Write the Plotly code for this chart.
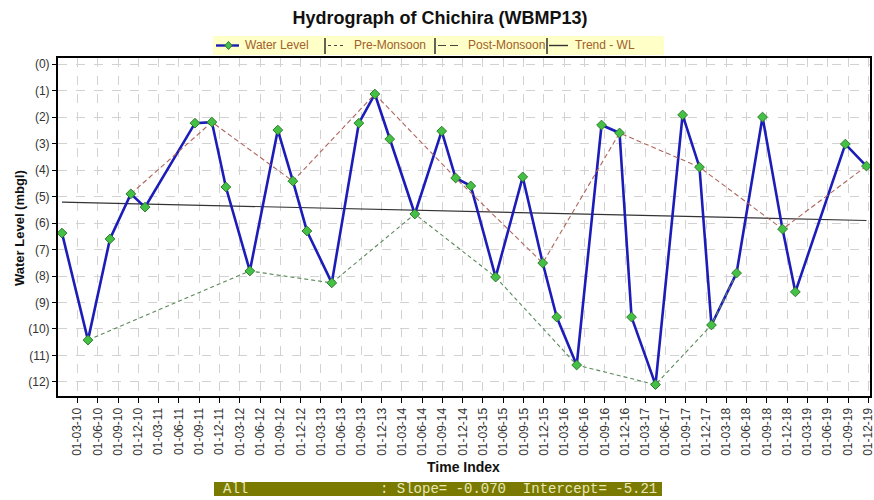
import plotly.graph_objects as go
from datetime import date

# ---------------- data ----------------
obs_dates = ["2009-12-22", "2010-04-18", "2010-07-26", "2010-10-28", "2010-12-31",
             "2011-08-13", "2011-10-28", "2011-12-30", "2012-04-16", "2012-08-20",
             "2012-10-27", "2012-12-29", "2013-04-20", "2013-08-20", "2013-10-31",
             "2014-01-06", "2014-04-29", "2014-08-28", "2014-10-30", "2015-01-06",
             "2015-04-28", "2015-08-28", "2015-11-26", "2016-01-28", "2016-04-27",
             "2016-08-17", "2016-11-06", "2016-12-30", "2017-04-17", "2017-08-17",
             "2017-11-01", "2017-12-25", "2018-04-17", "2018-08-12", "2018-11-10",
             "2019-01-07", "2019-08-20", "2019-11-23"]
water_level = [6.38, 10.42, 6.6, 4.9, 5.4,
               2.23, 2.19, 4.64, 7.81, 2.49,
               4.42, 6.3, 8.26, 2.23, 1.13,
               2.83, 5.66, 2.53, 4.3, 4.6,
               8.04, 4.26, 7.51, 9.55, 11.36,
               2.3, 2.6, 9.55, 12.1, 1.92,
               3.89, 9.85, 7.89, 2.0, 6.23,
               8.6, 3.02, 3.85]
pre_monsoon_idx = [1, 8, 12, 16, 20, 24, 28, 31, 32]
post_monsoon_idx = [3, 6, 10, 14, 18, 22, 26, 30, 34, 37]
trend_slope = -0.070      # per year
trend_intercept = -5.21
y_tick_vals = list(range(0, 13))
y_tick_text = ["(%d)" % v for v in y_tick_vals]

# derived series
pre_x = [obs_dates[i] for i in pre_monsoon_idx]
pre_y = [water_level[i] for i in pre_monsoon_idx]
post_x = [obs_dates[i] for i in post_monsoon_idx]
post_y = [water_level[i] for i in post_monsoon_idx]
d0 = date.fromisoformat(obs_dates[0])
d1 = date.fromisoformat(obs_dates[-1])
yrs = (d1 - d0).days / 365.25
trend_x = [obs_dates[0], obs_dates[-1]]
trend_y = [-(trend_intercept + trend_slope * 0), -(trend_intercept + trend_slope * yrs)]

# ---------------- layout geometry ----------------
W, H = 874, 500
L, R, T, B = 58, 870, 58, 396


def px(x):
    return (x - L) / (R - L)


def py(y):
    return (B - y) / (B - T)


FONT = "Arial, Liberation Sans, Helvetica, sans-serif"

fig = go.Figure()

fig.add_trace(go.Scatter(x=trend_x, y=trend_y, mode="lines",
                         line=dict(color="#333333", width=1.2), showlegend=False))
fig.add_trace(go.Scatter(x=obs_dates, y=water_level, mode="lines",
                         line=dict(color="#1c1cb8", width=2.6), showlegend=False))
fig.add_trace(go.Scatter(x=pre_x, y=pre_y, mode="lines",
                         line=dict(color="#5a8a5a", width=1.1, dash="4px,3px"), showlegend=False))
fig.add_trace(go.Scatter(x=post_x, y=post_y, mode="lines",
                         line=dict(color="#b0645a", width=1.1, dash="5px,3px"), showlegend=False))
fig.add_trace(go.Scatter(x=obs_dates, y=water_level, mode="markers",
                         marker=dict(symbol="diamond", size=7.5, color="#44c044",
                                     line=dict(color="#2f7a2f", width=1)),
                         showlegend=False))

fig.update_xaxes(
    type="date",
    range=["2009-12-04", "2019-12-09"],
    tick0="2010-03-01", dtick="M3", tickformat="%d-%m-%y",
    tickangle=-90,
    tickfont=dict(family=FONT, size=12, color="#333333"),
    ticks="outside", ticklen=5, tickcolor="#000000",
    ticklabeloverflow="allow",
    showgrid=True, gridcolor="#d2d2d2", gridwidth=1, griddash="dash",
    showline=True, linecolor="#000000", linewidth=2, mirror=True,
    zeroline=False, automargin=False,
)
fig.update_yaxes(
    range=[12.53, -0.23],
    tickvals=y_tick_vals, ticktext=y_tick_text,
    tickfont=dict(family=FONT, size=12, color="#333333"),
    ticks="outside", ticklen=4, tickcolor="#000000",
    showgrid=True, gridcolor="#d2d2d2", gridwidth=1, griddash="dash",
    showline=True, linecolor="#000000", linewidth=2, mirror=True,
    zeroline=False, automargin=False,
)

shapes = []
annotations = []

# legend box
shapes.append(dict(type="rect", xref="paper", yref="paper",
                   x0=px(213), x1=px(664), y0=py(55), y1=py(36),
                   fillcolor="#ffffc8", line=dict(width=0), layer="below"))
ly = py(45.5)
# water level sample
shapes.append(dict(type="line", xref="paper", yref="paper",
                   x0=px(216), x1=px(239), y0=ly, y1=ly,
                   line=dict(color="#1c1cb8", width=2.4)))
# separators
for sx in [325, 435, 547]:
    shapes.append(dict(type="line", xref="paper", yref="paper",
                       x0=px(sx), x1=px(sx), y0=py(38), y1=py(54),
                       line=dict(color="#222222", width=1.4)))
shapes.append(dict(type="line", xref="paper", yref="paper",
                   x0=px(328), x1=px(345), y0=ly, y1=ly,
                   line=dict(color="#444444", width=1.2, dash="3px,3px")))
shapes.append(dict(type="line", xref="paper", yref="paper",
                   x0=px(438), x1=px(460), y0=ly, y1=ly,
                   line=dict(color="#444444", width=1.2, dash="8px,4px")))
shapes.append(dict(type="line", xref="paper", yref="paper",
                   x0=px(549), x1=px(568), y0=ly, y1=ly,
                   line=dict(color="#333333", width=1.4)))
# diamond marker for legend
shapes.append(dict(type="path", xref="paper", yref="paper",
                   path="M %f,%f L %f,%f L %f,%f L %f,%f Z" % (
                       px(228.5), py(41.5), px(232), py(45.5),
                       px(228.5), py(49.5), px(225), py(45.5)),
                   fillcolor="#44c044", line=dict(color="#2f7a2f", width=1)))

leg_color = "#a0602a"
for txt, x0 in [("Water Level", 243), ("Pre-Monsoon", 352), ("Post-Monsoon", 466), ("Trend - WL", 573)]:
    annotations.append(dict(text=txt, xref="paper", yref="paper", x=px(x0), y=ly,
                            xanchor="left", yanchor="middle", showarrow=False,
                            font=dict(family=FONT, size=12, color=leg_color)))

# axis titles
annotations.append(dict(text="<b>Time Index</b>", xref="paper", yref="paper",
                        x=px(463), y=py(467), xanchor="center", yanchor="middle",
                        showarrow=False, font=dict(family=FONT, size=14, color="#111111")))
annotations.append(dict(text="<b>Water Level (mbgl)</b>", xref="paper", yref="paper",
                        x=px(19), y=py(228), xanchor="center", yanchor="middle",
                        textangle=-90, showarrow=False,
                        font=dict(family=FONT, size=13, color="#111111")))

# bottom statistics bar
shapes.append(dict(type="rect", xref="paper", yref="paper",
                   x0=px(214), x1=px(662), y0=py(496), y1=py(482),
                   fillcolor="#7a7a00", line=dict(width=0)))
mono = "Liberation Mono, Courier New, monospace"
annotations.append(dict(text="All", xref="paper", yref="paper", x=px(221), y=py(489),
                        xanchor="left", yanchor="middle", showarrow=False,
                        font=dict(family=mono, size=14, color="#e8e8b8")))
stat_text = ":\u00a0Slope=\u00a0%.3f\u00a0\u00a0Intercept=\u00a0%.2f" % (trend_slope, trend_intercept)
annotations.append(dict(text=stat_text, xref="paper", yref="paper", x=px(659), y=py(489),
                        xanchor="right", yanchor="middle", showarrow=False,
                        font=dict(family=mono, size=14, color="#e8e8b8")))

fig.update_layout(
    width=W, height=H,
    margin=dict(l=L, r=W - R, t=T, b=H - B, pad=0),
    paper_bgcolor="#ffffff", plot_bgcolor="#ffffff",
    title=dict(text="<b>Hydrograph of Chichira (WBMP13)</b>", x=440 / W, y=1 - 18 / H,
               xref="container", yref="container", xanchor="center", yanchor="middle",
               font=dict(family=FONT, size=18, color="#111111")),
    shapes=shapes, annotations=annotations,
    showlegend=False,
)

fig.write_html("out.html", config={"displayModeBar": False},
               post_script="document.body.style.margin='0px';document.body.style.overflow='hidden';")
